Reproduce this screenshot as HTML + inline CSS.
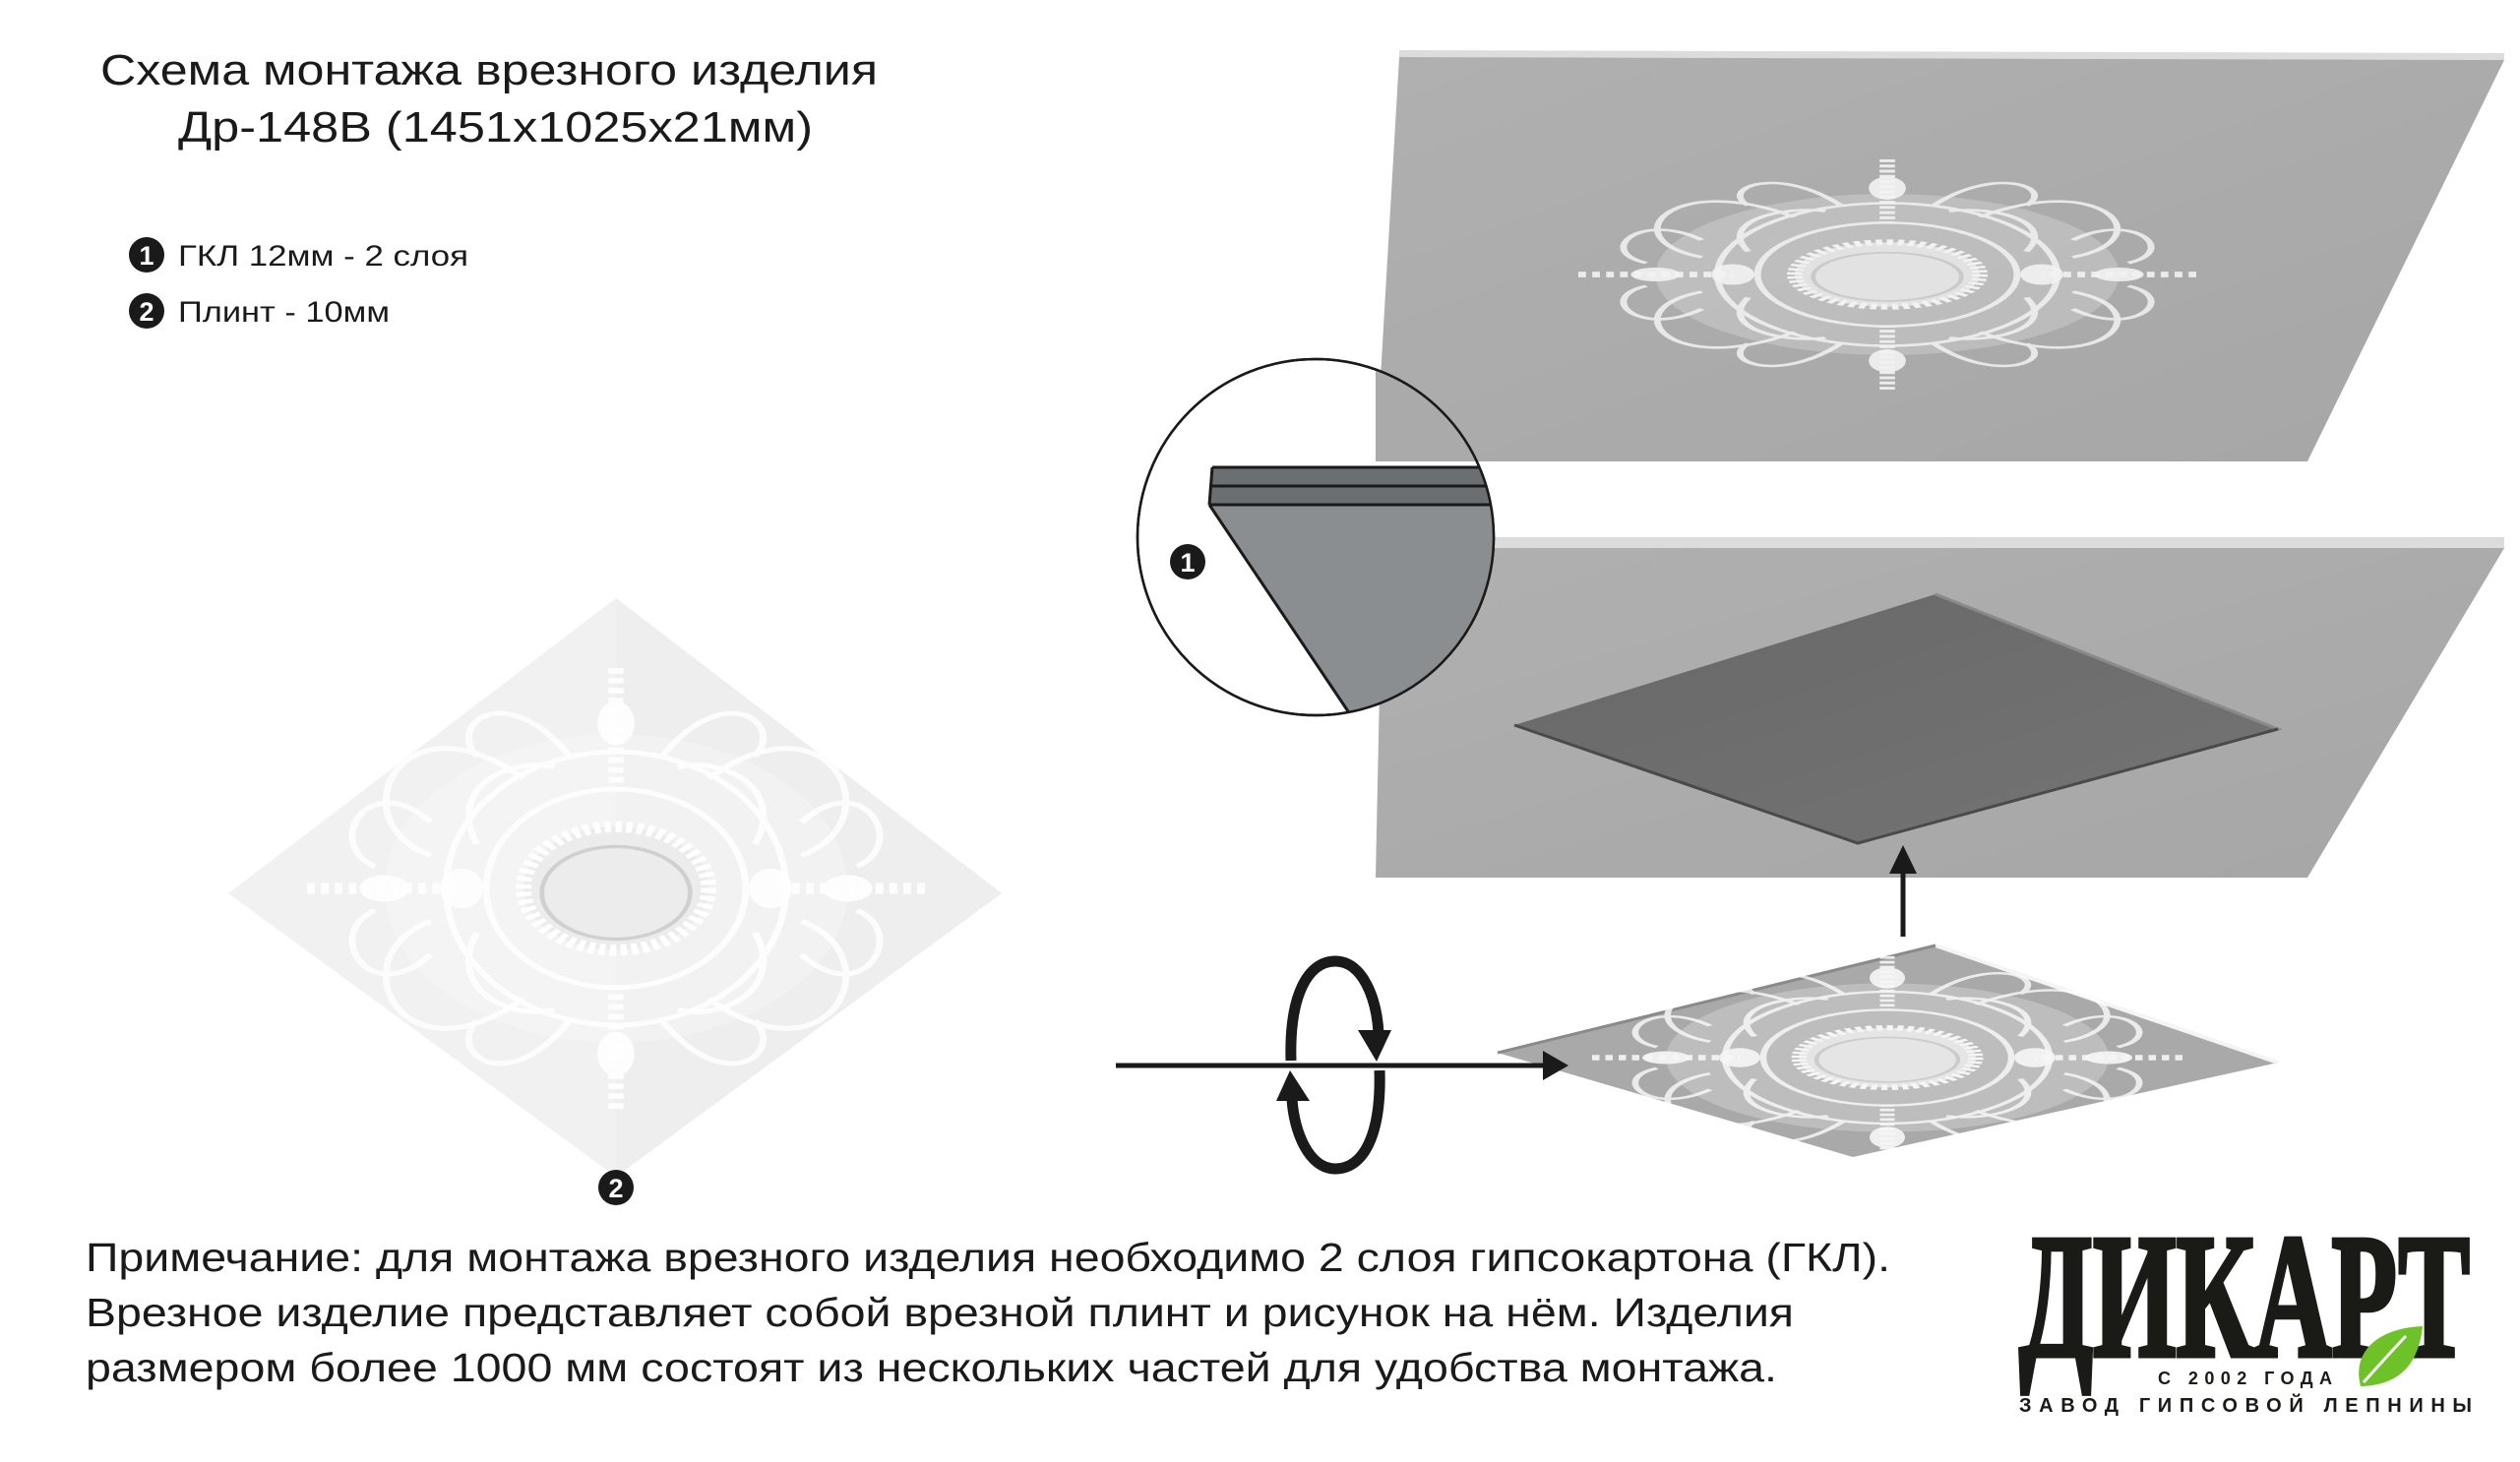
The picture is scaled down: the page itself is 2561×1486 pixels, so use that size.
<!DOCTYPE html>
<html><head><meta charset="utf-8"><style>
html,body{margin:0;padding:0;background:#fff;}
body{width:2561px;height:1486px;overflow:hidden;position:relative;font-family:"Liberation Sans",Arial,sans-serif;}
svg{position:absolute;left:0;top:0;}
</style></head><body>
<svg width="2561" height="1486" viewBox="0 0 2561 1486" xmlns="http://www.w3.org/2000/svg">
<defs>
<linearGradient id="pg" x1="0" y1="0" x2="1" y2="1"><stop offset="0" stop-color="#b0b0b0"/><stop offset="1" stop-color="#a6a6a6"/></linearGradient>
<linearGradient id="dg" x1="0" y1="0" x2="1" y2="1"><stop offset="0" stop-color="#686868"/><stop offset="1" stop-color="#747474"/></linearGradient>
<g id="orn">
  <ellipse cx="0" cy="0" rx="0.75" ry="0.7" fill="#ffffff" opacity="0.25"/>
  <g fill="none" stroke="#ffffff" stroke-width="0.022" opacity="0.85">
    <ellipse cx="0" cy="0" rx="0.55" ry="0.62"/>
    <ellipse cx="0" cy="0" rx="0.42" ry="0.45"/>
    <path d="M-0.3,-0.5 C-0.7,-0.9 -0.9,-0.3 -0.6,-0.15 M0.3,-0.5 C0.7,-0.9 0.9,-0.3 0.6,-0.15 M-0.3,0.5 C-0.7,0.9 -0.9,0.3 -0.6,0.15 M0.3,0.5 C0.7,0.9 0.9,0.3 0.6,0.15"/>
    <path d="M-0.15,-0.6 C-0.35,-0.95 -0.55,-0.75 -0.45,-0.6 M0.15,-0.6 C0.35,-0.95 0.55,-0.75 0.45,-0.6 M-0.15,0.6 C-0.35,0.95 -0.55,0.75 -0.45,0.6 M0.15,0.6 C0.35,0.95 0.55,0.75 0.45,0.6"/>
    <path d="M-0.6,-0.3 C-0.8,-0.55 -0.95,-0.2 -0.78,-0.1 M0.6,-0.3 C0.8,-0.55 0.95,-0.2 0.78,-0.1 M-0.6,0.3 C-0.8,0.55 -0.95,0.2 -0.78,0.1 M0.6,0.3 C0.8,0.55 0.95,0.2 0.78,0.1"/>
    <path d="M-0.45,-0.2 C-0.55,-0.45 -0.35,-0.6 -0.2,-0.55 M0.45,-0.2 C0.55,-0.45 0.35,-0.6 0.2,-0.55 M-0.45,0.2 C-0.55,0.45 -0.35,0.6 -0.2,0.55 M0.45,0.2 C0.55,0.45 0.35,0.6 0.2,0.55"/>
  </g>
  <g stroke="#ffffff" stroke-width="0.05" stroke-dasharray="0.025 0.02" fill="none" opacity="0.9">
    <line x1="0" y1="-1" x2="0" y2="-0.45"/><line x1="0" y1="1" x2="0" y2="0.45"/>
    <line x1="-1" y1="0" x2="-0.5" y2="0"/><line x1="1" y1="0" x2="0.5" y2="0"/>
  </g>
  <g fill="#ffffff" opacity="0.9">
    <ellipse cx="0" cy="-0.75" rx="0.06" ry="0.1"/><ellipse cx="0" cy="0.75" rx="0.06" ry="0.1"/>
    <ellipse cx="-0.75" cy="0" rx="0.08" ry="0.06"/><ellipse cx="0.75" cy="0" rx="0.08" ry="0.06"/>
    <ellipse cx="-0.5" cy="0" rx="0.07" ry="0.09"/><ellipse cx="0.5" cy="0" rx="0.07" ry="0.09"/>
  </g>
  <ellipse cx="0" cy="0" rx="0.3" ry="0.28" fill="#ececec" stroke="#ffffff" stroke-width="0.05" stroke-dasharray="0.02 0.015"/>
  <ellipse cx="0" cy="0.02" rx="0.24" ry="0.21" fill="none" stroke="#d0d0d0" stroke-width="0.015"/>
</g>
</defs>

<!-- Title -->
<text x="102" y="86" font-size="44" fill="#1a1a1a" textLength="790" lengthAdjust="spacingAndGlyphs">Схема монтажа врезного изделия</text>
<text x="181" y="144" font-size="44" fill="#1a1a1a" textLength="645" lengthAdjust="spacingAndGlyphs">Др-148В (1451х1025х21мм)</text>

<!-- Legend -->
<circle cx="149" cy="259" r="18" fill="#1a1a1a"/>
<text x="149" y="269" font-size="27" font-weight="bold" text-anchor="middle" fill="#fff">1</text>
<text x="181" y="270" font-size="30" fill="#1a1a1a" textLength="295" lengthAdjust="spacingAndGlyphs">ГКЛ 12мм - 2 слоя</text>
<circle cx="149" cy="316" r="18" fill="#1a1a1a"/>
<text x="149" y="326" font-size="27" font-weight="bold" text-anchor="middle" fill="#fff">2</text>
<text x="181" y="327" font-size="30" fill="#1a1a1a" textLength="215" lengthAdjust="spacingAndGlyphs">Плинт - 10мм</text>

<!-- Left diamond -->
<polygon points="626,608 1018,908 626,1196 232,908" fill="#f1f1f1"/>
<polygon points="626,608 1018,908 626,1196" fill="#ededed" opacity="0.6"/>
<use href="#orn" transform="translate(626,903) scale(314,224)"/>
<circle cx="626" cy="1207" r="18" fill="#1a1a1a"/>
<text x="626" y="1217" font-size="27" font-weight="bold" text-anchor="middle" fill="#fff">2</text>

<!-- Top panel -->
<polygon points="1422,51 2545,54 2545,61 1422,58" fill="#dcdcdc"/>
<polygon points="1422,58 2545,61 2345,469 1398,469" fill="url(#pg)"/>
<g opacity="0.85"><use href="#orn" transform="translate(1918,279) scale(314,117)"/></g>

<!-- Middle panel -->
<polygon points="1405,546 2545,546 2545,557 1405,557" fill="#dcdcdc"/>
<polygon points="1405,557 2545,557 2345,892 1398,892" fill="url(#pg)"/>
<polygon points="1967,604 2315,741 1888,857 1539,737" fill="url(#dg)"/>
<polyline points="1967,604 2315,741 1888,857" fill="none" stroke="#8a8a8a" stroke-width="3"/>
<polyline points="1539,737 1888,857 2315,741" fill="none" stroke="#4a4a4a" stroke-width="3"/>

<!-- Magnifier -->
<circle cx="1337" cy="546" r="181" fill="#fff" stroke="#1a1a1a" stroke-width="2.5"/>
<clipPath id="cc"><circle cx="1337" cy="546" r="180"/></clipPath>
<g clip-path="url(#cc)">
  <polygon points="1398,366 1560,366 1560,469 1398,469" fill="#aaaaaa"/>
  <polygon points="1405,546 1560,546 1560,557 1405,557" fill="#dcdcdc"/>
  <polygon points="1405,557 1560,557 1560,740 1405,740" fill="#a8a8a8"/>
  <polygon points="1229,513 1560,513 1560,740 1370,723" fill="#8b8e90"/>
  <polygon points="1232,475 1560,475 1560,513 1229,513" fill="#6c6f72"/>
  <line x1="1232" y1="475" x2="1560" y2="475" stroke="#1a1a1a" stroke-width="3"/>
  <line x1="1230" y1="494" x2="1560" y2="494" stroke="#1a1a1a" stroke-width="3"/>
  <line x1="1229" y1="513" x2="1560" y2="513" stroke="#1a1a1a" stroke-width="3"/>
  <line x1="1232" y1="475" x2="1229" y2="513" stroke="#1a1a1a" stroke-width="3"/>
  <line x1="1229" y1="513" x2="1372" y2="726" stroke="#1a1a1a" stroke-width="3"/>
</g>
<circle cx="1337" cy="546" r="181" fill="none" stroke="#1a1a1a" stroke-width="2.5"/>
<circle cx="1207" cy="571" r="18" fill="#1a1a1a"/>
<text x="1207" y="581" font-size="27" font-weight="bold" text-anchor="middle" fill="#fff">1</text>

<!-- Up arrow -->
<line x1="1934" y1="952" x2="1934" y2="885" stroke="#1a1a1a" stroke-width="5"/>
<polygon points="1934,859 1920,888 1948,888" fill="#1a1a1a"/>

<!-- Bottom plinth -->
<polygon points="1967,961 2315,1080 1883,1176 1522,1070" fill="#a9a9a9"/>
<polyline points="1967,961 2315,1080" fill="none" stroke="#f4f4f4" stroke-width="4"/>
<polyline points="1522,1070 1967,961" fill="none" stroke="#8a8a8a" stroke-width="3"/>
<g opacity="0.9"><use href="#orn" transform="translate(1918,1075) scale(300,108)"/></g>

<!-- Horizontal arrow -->
<line x1="1134" y1="1083" x2="1575" y2="1083" stroke="#1a1a1a" stroke-width="5"/>
<polygon points="1594,1083 1568,1068 1568,1098" fill="#1a1a1a"/>

<!-- Rotation -->
<path d="M1312,1078 C1310,1010 1330,977 1357,977 C1385,977 1399,1015 1401,1050" fill="none" stroke="#1a1a1a" stroke-width="11"/>
<polygon points="1399,1079 1380,1047 1414,1047" fill="#1a1a1a"/>
<path d="M1402,1088 C1404,1155 1385,1188 1357,1188 C1330,1188 1315,1150 1313,1117" fill="none" stroke="#1a1a1a" stroke-width="11"/>
<polygon points="1311,1088 1297,1119 1331,1119" fill="#1a1a1a"/>

<!-- Note -->
<text x="87" y="1292" font-size="41" fill="#1a1a1a" textLength="1834" lengthAdjust="spacingAndGlyphs">Примечание: для монтажа врезного изделия необходимо 2 слоя гипсокартона (ГКЛ).</text>
<text x="87" y="1348" font-size="41" fill="#1a1a1a" textLength="1736" lengthAdjust="spacingAndGlyphs">Врезное изделие представляет собой врезной плинт и рисунок на нём. Изделия</text>
<text x="87" y="1404" font-size="41" fill="#1a1a1a" textLength="1719" lengthAdjust="spacingAndGlyphs">размером более 1000 мм состоят из нескольких частей для удобства монтажа.</text>

<!-- Logo -->
<text x="2052" y="1378" font-family="Liberation Serif, serif" font-weight="bold" font-size="180" fill="#1a1a16" stroke="#1a1a16" stroke-width="5" textLength="458" lengthAdjust="spacingAndGlyphs">ДИКАРТ</text>
<path d="M2399,1409 C2390,1375 2415,1350 2462,1348 C2458,1385 2440,1408 2399,1409 Z" fill="#6cc227"/>
<path d="M2402,1405 C2420,1385 2438,1365 2445,1358" stroke="#fff" stroke-width="3" fill="none"/>
<text x="2193" y="1407" font-size="18" font-weight="bold" fill="#1a1a16" textLength="177" lengthAdjust="spacing">С 2002 ГОДА</text>
<text x="2052" y="1435" font-size="20" font-weight="bold" fill="#1a1a16" textLength="460" lengthAdjust="spacing">ЗАВОД ГИПСОВОЙ ЛЕПНИНЫ</text>
</svg>
</body></html>
